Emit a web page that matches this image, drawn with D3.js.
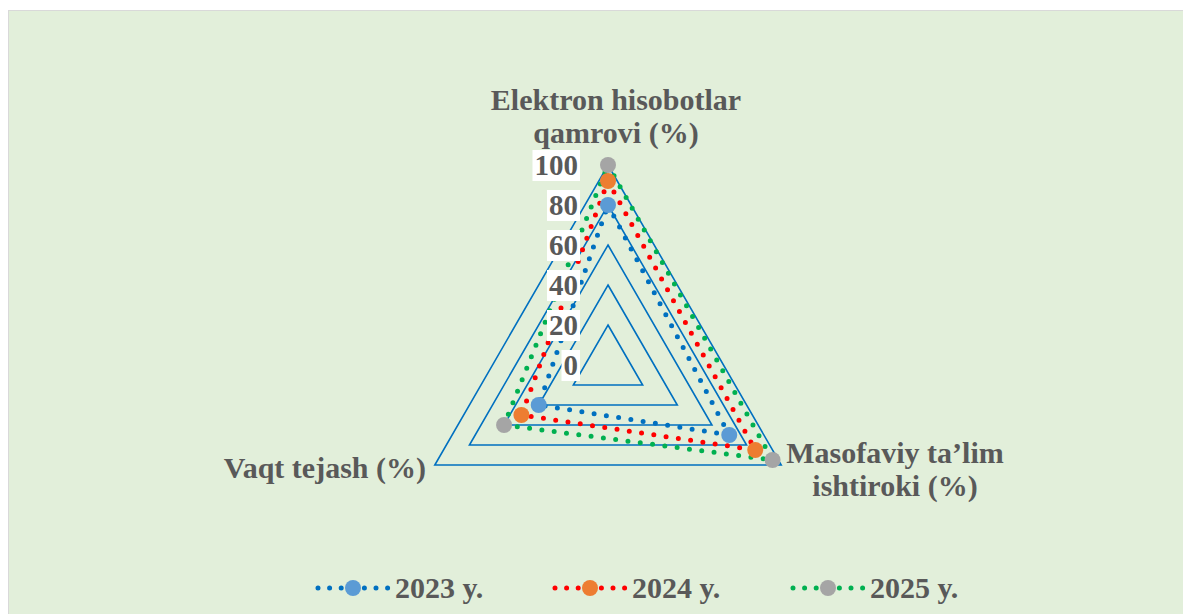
<!DOCTYPE html>
<html>
<head>
<meta charset="utf-8">
<script src="https://cdn.jsdelivr.net/npm/d3@7"></script>
<style>
  body { margin: 0; background: #fff; }
  text { font-family: "Liberation Serif", "Times New Roman", serif; font-weight: bold; fill: #595959; }
</style>
</head>
<body>
<div id="chartArea"></div>
<script>
const svgWidth = 1183;
const svgHeight = 614;

// data
const axesNames = [
  ['Elektron hisobotlar', 'qamrovi (%)'],
  ['Masofaviy ta\u2019lim', 'ishtiroki (%)'],
  ['Vaqt tejash (%)']
];
const years = ['2023 y.', '2024 y.', '2025 y.'];
const values2023 = [80, 70, 40];
const values2024 = [92, 85, 50];
const values2025 = [100, 95, 60];
const tickValues = [0, 20, 40, 60, 80, 100];
const gridLevels = [20, 40, 60, 80, 100];

const lineColors = ['#0070C0', '#FF0000', '#00B050'];
const markerColors = ['#5B9BD5', '#ED7D31', '#A5A5A5'];
const gridColor = '#0070C0';

const cx = 608;
const cy = 365;

const canvas = d3.select('#chartArea')
  .append('svg')
  .attr('width', svgWidth)
  .attr('height', svgHeight);

// chart area
canvas.append('rect')
  .attr('x', 8.5)
  .attr('y', 10.5)
  .attr('width', svgWidth)
  .attr('height', svgHeight)
  .attr('fill', '#E2EFDA')
  .attr('stroke', '#D9D9D9');

const r = d3.scaleLinear().domain([0, 100]).range([0, 200]);
const angle = i => i * 2 * Math.PI / 3;

const radar = canvas.append('g')
  .attr('transform', `translate(${cx},${cy})`);

const radial = d3.lineRadial()
  .angle((d, i) => angle(i))
  .radius(d => r(d))
  .curve(d3.curveLinearClosed);

// grid rings
radar.selectAll('.ring')
  .data(gridLevels)
  .enter()
  .append('path')
  .attr('d', v => radial([v, v, v]))
  .attr('fill', 'none')
  .attr('stroke', gridColor)
  .attr('stroke-width', 1.6);

// series
const series = [values2023, values2024, values2025];
const pt = (v, i) => [r(v) * Math.sin(angle(i)), -r(v) * Math.cos(angle(i))];

series.forEach((vals, s) => {
  radar.append('path')
    .attr('d', radial(vals))
    .attr('fill', 'none')
    .attr('stroke', lineColors[s])
    .attr('stroke-width', 5)
    .attr('stroke-linecap', 'round')
    .attr('stroke-dasharray', '0 12.4');
});

series.forEach((vals, s) => {
  radar.selectAll('.m' + s)
    .data(vals)
    .enter()
    .append('circle')
    .attr('cx', (v, i) => pt(v, i)[0])
    .attr('cy', (v, i) => pt(v, i)[1])
    .attr('r', 8)
    .attr('fill', markerColors[s]);
});

// tick labels with white boxes
tickValues.forEach(v => {
  const g = canvas.append('g');
  const t = g.append('text')
    .attr('x', 578)
    .attr('y', cy - r(v) + 10)
    .attr('text-anchor', 'end')
    .attr('font-size', 29)
    .text(v);
  const b = t.node().getBBox();
  g.insert('rect', 'text')
    .attr('x', b.x - 2)
    .attr('y', cy - r(v) - 15)
    .attr('width', b.width + 4)
    .attr('height', 31)
    .attr('fill', '#fff');
});

// axis labels
const axisLabel = (lines, x, y, anchor) => {
  const t = canvas.append('text')
    .attr('x', x)
    .attr('y', y)
    .attr('text-anchor', anchor)
    .attr('font-size', 30);
  lines.forEach((l, i) => {
    t.append('tspan')
      .attr('x', x)
      .attr('dy', i === 0 ? 0 : 33)
      .text(l);
  });
};
axisLabel(axesNames[0], 616, 110, 'middle');
axisLabel(axesNames[1], 895, 463, 'middle');
axisLabel(axesNames[2], 426, 478, 'end');

// legend
const legendX = [318, 555, 793];
const legendY = 588;
years.forEach((name, s) => {
  const x0 = legendX[s];
  canvas.append('line')
    .attr('x1', x0)
    .attr('y1', legendY)
    .attr('x2', x0 + 70)
    .attr('y2', legendY)
    .attr('stroke', lineColors[s])
    .attr('stroke-width', 5)
    .attr('stroke-linecap', 'round')
    .attr('stroke-dasharray', '0 11.6');
  canvas.append('circle')
    .attr('cx', x0 + 35)
    .attr('cy', legendY)
    .attr('r', 8)
    .attr('fill', markerColors[s]);
  canvas.append('text')
    .attr('x', x0 + 77)
    .attr('y', legendY + 10)
    .attr('font-size', 30)
    .text(name);
});
</script>
</body>
</html>
